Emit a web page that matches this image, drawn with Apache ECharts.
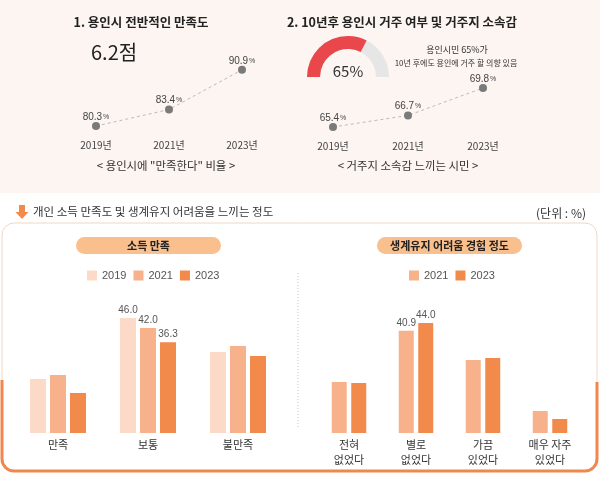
<!DOCTYPE html>
<html><head><meta charset="utf-8">
<script src="https://cdn.jsdelivr.net/npm/echarts@6/dist/echarts.min.js"></script>
<style>html,body{margin:0;padding:0;background:#fff}#c{width:600px;height:483px}</style>
</head><body><div id="c"></div>
<script>
const lineYears = ['2019년', '2021년', '2023년'];
const satisfactionRate = [80.3, 83.4, 90.9];
const belongingRate = [65.4, 66.7, 69.8];
const residenceIntent = 65;
const incomeCats = ['만족', '보통', '불만족'];
const income2019 = [21.6, 46.0, 32.4];
const income2021 = [23.2, 42.0, 34.8];
const income2023 = [16.0, 36.3, 30.8];
const hardshipCats = ['전혀\n없었다', '별로\n없었다', '가끔\n있었다', '매우 자주\n있었다'];
const hardship2021 = [20.4, 40.9, 29.2, 8.8];
const hardship2023 = [20.0, 44.0, 30.0, 5.6];
const incomeLabeled = [1];
const hardshipLabeled = [1];

const KR = "'Noto Sans CJK KR', sans-serif";
const NUM = "'Liberation Sans', Arial, sans-serif";
const C19 = '#fcdac7', C21 = '#f7b18b', C23 = '#f28a4c';
const ORANGE_LINE = '#f0874c';

const chart = echarts.init(document.getElementById('c'), null, {renderer: 'canvas'});

function withLabels(arr, labeled) {
  return arr.map((v, i) => ({value: v, label: {show: labeled.includes(i)}}));
}
const barLabel = {position: 'top', distance: 3, fontSize: 10, color: '#555', fontFamily: NUM, formatter: p => p.value.toFixed(1)};
const pointLabel = {
  show: true, position: 'top', distance: 0,
  formatter: p => '{a|' + p.value.toFixed(1) + '}{b|%}',
  rich: {a: {fontSize: 10, color: '#444', fontFamily: NUM}, b: {fontSize: 7, color: '#444', fontFamily: NUM, padding: [0, 0, 0, 1]}}
};
const lineStyleCommon = {color: '#bbbbbb', width: 1, type: [3, 3]};

const option = {
  animation: false,
  textStyle: {fontFamily: KR},
  graphic: [
    {type: 'rect', shape: {x: 0, y: 0, width: 600, height: 193}, style: {fill: '#fcf5f1'}, silent: true},
    {type: 'text', x: 141, y: 22, style: {text: '1. 용인시 전반적인 만족도', font: "bold 12.5px " + KR, fill: '#222', align: 'center', verticalAlign: 'middle'}},
    {type: 'text', x: 402, y: 22, style: {text: '2. 10년후 용인시 거주 여부 및 거주지 소속감', font: "bold 12.5px " + KR, fill: '#222', align: 'center', verticalAlign: 'middle'}},
    {type: 'text', x: 91, y: 52, style: {text: '6.2점', font: "20px " + KR, fill: '#222', align: 'left', verticalAlign: 'middle'}},
    {type: 'text', x: 166, y: 166, style: {text: '< 용인시에 "만족한다" 비율 >', font: "11.4px " + KR, fill: '#333', align: 'center', verticalAlign: 'middle'}},
    {type: 'text', x: 408, y: 166, style: {text: '< 거주지 소속감 느끼는 시민 >', font: "11.4px " + KR, fill: '#333', align: 'center', verticalAlign: 'middle'}},
    {type: 'text', x: 457, y: 50, style: {text: '용인시민 65%가', font: "9px " + KR, fill: '#333', align: 'center', verticalAlign: 'middle'}},
    {type: 'text', x: 456, y: 63, style: {text: '10년 후에도 용인에 거주 할 의향 있음', font: "8px " + KR, fill: '#333', align: 'center', verticalAlign: 'middle'}},
    {type: 'polygon', shape: {points: [[19, 205], [25, 205], [25, 212], [28.5, 212], [22, 219], [15.5, 212], [19, 212]]}, style: {fill: '#f28a4c'}},
    {type: 'text', x: 33, y: 212, style: {text: '개인 소득 만족도 및 생계유지 어려움을 느끼는 정도', font: "11.5px " + KR, fill: '#333', align: 'left', verticalAlign: 'middle'}},
    {type: 'text', x: 586, y: 213, style: {text: '(단위 : %)', font: "12px " + KR, fill: '#333', align: 'right', verticalAlign: 'middle'}},
    {type: 'rect', shape: {x: 2, y: 223, width: 595, height: 248, r: 12}, style: {fill: 'none', stroke: '#efd6c4', lineWidth: 1}},
    {type: 'polyline', shape: {points: [[2, 380], [2, 459]]}, style: {stroke: ORANGE_LINE, lineWidth: 3, fill: 'none'}},
    {type: 'polyline', shape: {points: [[14, 471], [585, 471]]}, style: {stroke: ORANGE_LINE, lineWidth: 3, fill: 'none'}},
    {type: 'polyline', shape: {points: [[597, 382], [597, 459]]}, style: {stroke: ORANGE_LINE, lineWidth: 3, fill: 'none'}},
    {type: 'arc', shape: {cx: 14, cy: 459, r: 12, startAngle: Math.PI / 2, endAngle: Math.PI, clockwise: true}, style: {stroke: ORANGE_LINE, lineWidth: 3, fill: 'none'}},
    {type: 'arc', shape: {cx: 585, cy: 459, r: 12, startAngle: 0, endAngle: Math.PI / 2, clockwise: true}, style: {stroke: ORANGE_LINE, lineWidth: 3, fill: 'none'}},
    {type: 'rect', shape: {x: 76, y: 237, width: 145, height: 17, r: 8.5}, style: {fill: '#f9bf8c'}},
    {type: 'text', x: 148.5, y: 245.5, style: {text: '소득 만족', font: "bold 11px " + KR, fill: '#222', align: 'center', verticalAlign: 'middle'}},
    {type: 'rect', shape: {x: 377, y: 237, width: 145, height: 17, r: 8.5}, style: {fill: '#f9bf8c'}},
    {type: 'text', x: 449.5, y: 245.5, style: {text: '생계유지 어려움 경험 정도', font: "bold 11px " + KR, fill: '#222', align: 'center', verticalAlign: 'middle'}},
    {type: 'line', shape: {x1: 298, y1: 273, x2: 298, y2: 428}, style: {stroke: '#c8c8c8', lineWidth: 1, lineDash: [1, 2]}}
  ],
  legend: [
    {left: 87, top: 270, padding: 0, itemWidth: 10, itemHeight: 10, itemGap: 7, icon: 'rect', data: ['2019', '2021', '2023'], textStyle: {fontSize: 11, color: '#555', fontFamily: NUM}, selectedMode: false},
    {left: 409, top: 270, padding: 0, itemWidth: 10, itemHeight: 10, itemGap: 7, icon: 'rect', data: ['2021', '2023'], textStyle: {fontSize: 11, color: '#555', fontFamily: NUM}, selectedMode: false}
  ],
  grid: [
    {left: 96, top: 60, width: 146, height: 75},
    {left: 333, top: 60, width: 150, height: 76},
    {left: 13, top: 308, width: 270, height: 125},
    {left: 315.5, top: 308, width: 268, height: 125}
  ],
  xAxis: [
    {gridIndex: 0, type: 'category', data: lineYears, boundaryGap: false, axisLine: {show: false}, axisTick: {show: false}, axisLabel: {fontSize: 10, color: '#444', margin: 5}},
    {gridIndex: 1, type: 'category', data: lineYears, boundaryGap: false, axisLine: {show: false}, axisTick: {show: false}, axisLabel: {fontSize: 10, color: '#444', margin: 5}},
    {gridIndex: 2, type: 'category', data: incomeCats, axisLine: {show: false}, axisTick: {show: false}, axisLabel: {fontSize: 11, color: '#333', margin: 4, lineHeight: 15}},
    {gridIndex: 3, type: 'category', data: hardshipCats, axisLine: {show: false}, axisTick: {show: false}, axisLabel: {fontSize: 11, color: '#333', margin: 4, lineHeight: 15}}
  ],
  yAxis: [
    {gridIndex: 0, type: 'value', min: 78.6, max: 92.75, show: false},
    {gridIndex: 1, type: 'value', min: 64.38, max: 72.96, show: false},
    {gridIndex: 2, type: 'value', min: 0, max: 50, show: false},
    {gridIndex: 3, type: 'value', min: 0, max: 50, show: false}
  ],
  series: [
    {type: 'line', xAxisIndex: 0, yAxisIndex: 0, data: satisfactionRate, symbol: 'circle', symbolSize: 8, itemStyle: {color: '#7a7a7a'}, lineStyle: lineStyleCommon, label: pointLabel},
    {type: 'line', xAxisIndex: 1, yAxisIndex: 1, data: belongingRate, symbol: 'circle', symbolSize: 8, itemStyle: {color: '#7a7a7a'}, lineStyle: lineStyleCommon, label: pointLabel},
    {name: '2019', type: 'bar', xAxisIndex: 2, yAxisIndex: 2, data: withLabels(income2019, incomeLabeled), barWidth: 16, barGap: '25%', itemStyle: {color: C19}, label: barLabel},
    {name: '2021', type: 'bar', xAxisIndex: 2, yAxisIndex: 2, data: withLabels(income2021, incomeLabeled), barWidth: 16, barGap: '25%', itemStyle: {color: C21}, label: barLabel},
    {name: '2023', type: 'bar', xAxisIndex: 2, yAxisIndex: 2, data: withLabels(income2023, incomeLabeled), barWidth: 16, barGap: '25%', itemStyle: {color: C23}, label: barLabel},
    {name: '2021', type: 'bar', xAxisIndex: 3, yAxisIndex: 3, data: withLabels(hardship2021, hardshipLabeled), barWidth: 15, barGap: '30%', itemStyle: {color: C21}, label: barLabel},
    {name: '2023', type: 'bar', xAxisIndex: 3, yAxisIndex: 3, data: withLabels(hardship2023, hardshipLabeled), barWidth: 15, barGap: '30%', itemStyle: {color: C23}, label: barLabel},
    {
      type: 'gauge', center: [348, 77], radius: 41, startAngle: 180, endAngle: 0, min: 0, max: 100,
      data: [{value: residenceIntent}],
      progress: {show: true, width: 13, roundCap: false, itemStyle: {color: '#e9474b'}},
      axisLine: {lineStyle: {width: 13, color: [[1, '#e6e6e6']]}},
      pointer: {show: false}, anchor: {show: false}, axisTick: {show: false}, splitLine: {show: false}, axisLabel: {show: false}, title: {show: false},
      detail: {formatter: '{value}%', offsetCenter: [0, -6], fontSize: 15, fontWeight: 'normal', color: '#333', fontFamily: KR}
    }
  ]
};
chart.setOption(option);
</script></body></html>
